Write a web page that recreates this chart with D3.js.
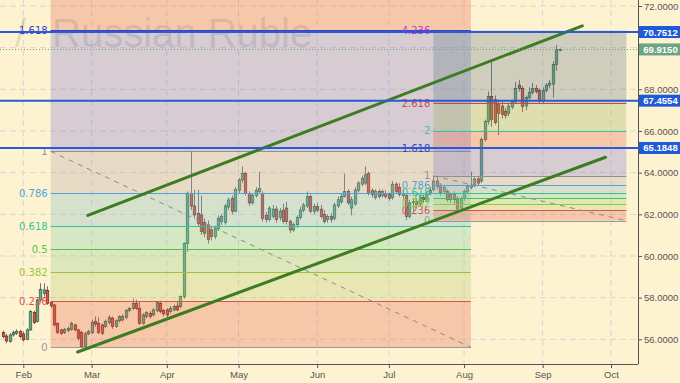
<!DOCTYPE html>
<html><head><meta charset="utf-8">
<script src="https://cdn.jsdelivr.net/npm/d3@7"></script>
<style>
html,body{margin:0;padding:0;background:#fef3d1;}
svg{display:block;}
</style></head><body>
<svg id="chart" width="680" height="383"></svg>
<script>
// ---------------- DATA ----------------
// daily USD/RUB candles (trading days starting 2018-01-24)
const firstDay = "2018-01-24";
const opens = [56.32,56.16,55.89,56.21,56.29,56.37,56.26,56.00,56.45,57.28,56.85,57.89,58.20,58.34,57.76,57.65,56.77,56.45,56.32,56.42,56.48,56.69,56.45,56.32,55.65,56.26,56.32,56.85,56.77,56.69,56.61,56.80,57.01,56.61,56.89,56.93,57.06,57.38,57.49,57.73,57.49,56.77,57.09,57.25,57.17,57.38,57.73,57.38,57.41,57.33,57.41,57.60,57.57,58.05,60.60,63.01,62.40,62.05,61.97,61.60,61.49,61.25,60.93,61.33,61.65,61.60,62.35,62.75,62.15,63.15,63.65,63.97,63.00,62.55,62.90,63.10,63.00,61.95,61.75,61.90,62.25,61.85,62.20,62.30,61.65,61.25,61.50,61.85,62.20,62.40,62.85,62.15,62.37,62.25,62.00,61.75,61.90,61.80,62.40,62.60,62.85,63.10,62.30,62.50,63.15,63.45,63.50,63.97,63.15,62.80,63.10,62.90,63.00,62.95,62.80,63.45,63.30,63.00,62.90,61.90,62.55,62.60,62.50,62.80,62.70,63.00,63.20,63.60,63.40,63.10,63.10,62.95,62.95,62.75,62.30,62.75,63.10,63.30,63.40,63.70,63.60,65.60,66.45,67.65,67.50,67.30,67.20,66.95,66.85,67.15,67.40,68.20,68.05,67.20,67.60,67.85,68.05,67.95,67.45,67.95,68.20,68.25,69.20,69.90];
const highs = [56.42,56.26,56.29,56.42,56.48,56.45,56.37,56.53,57.41,57.38,57.95,58.69,58.69,58.55,57.85,57.70,56.80,56.50,56.55,56.60,56.85,56.75,56.50,56.40,56.35,56.45,56.95,57.10,57.05,56.75,56.95,57.15,57.10,56.95,57.15,57.20,57.45,57.55,57.95,57.90,57.80,57.25,57.35,57.35,57.50,57.85,57.85,57.45,57.50,57.60,57.65,57.80,58.10,60.65,63.10,65.05,63.17,63.17,62.90,61.80,61.70,61.40,61.45,61.95,62.00,62.50,62.80,62.90,63.30,63.75,64.30,64.05,63.10,63.00,63.30,64.05,63.10,62.10,62.40,62.45,62.40,62.30,62.50,62.60,61.75,61.60,61.95,62.35,62.55,63.10,62.95,62.50,62.55,62.45,62.20,62.00,62.05,62.55,62.85,63.00,63.95,63.20,62.85,63.30,63.60,63.85,64.30,64.05,63.25,63.20,63.20,63.20,63.15,63.05,63.60,63.55,63.50,63.20,63.00,62.70,62.80,62.75,62.90,62.95,63.10,63.30,63.84,63.80,63.50,63.40,63.20,63.05,63.10,62.85,62.85,63.20,63.45,64.05,63.80,63.85,65.70,66.55,67.90,69.33,67.70,67.50,67.40,67.10,67.30,67.50,68.35,68.45,68.15,67.70,68.10,68.30,68.20,68.05,68.10,68.30,68.45,69.35,70.13,69.95];
const lows = [56.05,55.81,55.84,56.13,56.21,56.05,55.89,55.95,56.40,56.73,56.80,57.80,58.05,57.65,57.50,56.60,56.25,56.20,56.25,56.35,56.42,56.38,55.95,55.57,55.60,56.20,56.25,56.60,56.25,56.20,56.55,56.70,56.50,56.55,56.80,56.85,56.95,57.30,57.40,57.40,56.70,56.70,57.00,57.00,57.10,57.30,57.25,57.10,57.05,57.25,57.35,57.35,57.50,57.95,60.20,62.20,61.81,61.41,61.00,60.90,60.60,60.75,60.80,61.20,61.50,61.50,62.20,62.00,62.10,63.00,63.50,62.90,62.40,62.45,62.80,63.00,61.65,61.60,61.65,61.80,61.60,61.70,61.55,61.50,61.10,61.15,61.35,61.75,62.10,62.30,62.05,62.00,62.10,61.80,61.55,61.60,61.60,61.70,62.30,62.50,62.80,62.45,61.95,62.40,63.05,63.35,63.40,62.90,62.80,62.70,62.75,62.80,62.75,62.65,62.70,63.00,62.85,62.70,61.72,61.80,62.15,62.30,62.40,62.55,62.60,62.90,63.10,63.20,62.90,62.95,62.60,62.55,62.50,62.10,62.20,62.65,63.00,63.20,63.30,63.40,63.50,65.50,66.30,66.20,66.30,65.80,66.60,66.60,66.70,67.05,67.30,67.90,66.90,67.00,67.50,67.75,67.80,67.35,67.35,67.85,68.05,67.60,68.90,69.85];
const closes = [56.13,55.92,56.21,56.32,56.37,56.13,55.97,56.45,57.33,56.80,57.89,58.40,58.37,57.73,57.60,56.69,56.32,56.29,56.48,56.53,56.77,56.45,56.05,55.65,56.26,56.37,56.80,56.73,56.32,56.29,56.85,57.06,56.61,56.89,57.09,57.09,57.38,57.49,57.73,57.49,56.77,57.17,57.28,57.09,57.41,57.76,57.33,57.22,57.17,57.49,57.57,57.41,58.05,60.61,63.02,62.40,61.97,61.57,61.17,61.09,60.80,60.93,61.33,61.81,61.89,62.40,62.69,62.15,63.20,63.65,63.97,63.00,62.55,62.90,63.15,63.25,61.80,61.75,62.30,62.25,61.75,62.15,61.65,61.65,61.25,61.50,61.85,62.20,62.45,62.85,62.15,62.37,62.20,61.90,61.65,61.90,61.75,62.45,62.70,62.85,63.10,62.55,62.70,63.17,63.50,63.73,63.90,63.00,62.95,63.10,62.85,63.10,62.85,62.75,63.45,63.10,62.95,62.90,61.90,62.55,62.60,62.45,62.80,62.70,63.00,63.15,63.60,63.35,63.05,63.30,62.70,62.70,62.70,62.25,62.75,63.10,63.35,63.40,63.70,63.50,65.60,66.45,67.65,66.55,66.40,66.85,66.80,66.75,67.20,67.40,68.05,68.05,67.17,67.60,67.85,68.05,67.90,67.45,67.95,68.20,68.30,69.20,69.90,69.915];

const priceTicks = [56,58,60,62,64,66,68,70,72];
const priceTickLabels = [56,58,60,62,64,66,68,72];
const monthNames = ["Feb","Mar","Apr","May","Jun","Jul","Aug","Sep","Oct"];
const markedPrices = [70.7512, 67.4554, 65.1848];
const lastPrice = 69.915;

// Fibonacci retracements (bar index, prices of level 1 and level 0)
const fibBig = {start: 14, end: 137, p1: 65.025, p0: 55.615};
const fibBigLevels = [0, 0.236, 0.382, 0.5, 0.618, 0.786, 1, 1.618, 2.618];
const fibSmall = {start: 126, end: 182.5, p1: 63.848, p0: 61.693};
const fibSmallLevels = [0, 0.236, 0.382, 0.5, 0.618, 0.786, 1, 1.618, 2, 2.618, 4.236];

// channel trend lines [barIndex, price]
const channelUpper = [[24.9, 61.95], [169.6, 71.05]];
const channelLower = [[21.9, 55.39], [176.4, 64.74]];

// ---------------- STYLE ----------------
const levelColor = {"0":"#9a9a9a","0.236":"#d9534f","0.382":"#9cc43a","0.5":"#4cc44c","0.618":"#33c39a","0.786":"#4ea3d9","1":"#8f8f9a","1.618":"#3b3fc4","2":"#3cc39e","2.618":"#d64545","4.236":"#c33bc8"};
const fibBigZones = ["rgb(227,103,75)","rgb(181,206,108)","rgb(141,210,131)","rgb(121,206,165)","rgb(121,186,195)","rgb(181,166,168)","rgb(124,116,208)","rgb(227,103,75)"];
const fibSmallZones = ["rgb(227,103,75)","rgb(181,206,108)","rgb(141,210,131)","rgb(121,206,165)","rgb(121,186,195)","rgb(181,166,168)","rgb(124,116,208)","rgb(227,103,75)","rgb(150,175,95)","rgb(100,122,140)"];

// ---------------- CHART ----------------
const plotW = 638, plotH = 364;
const svg = d3.select("#chart");
const dates = d3.timeDay.range(new Date(2018,0,24), new Date(2018,10,1)).filter(d => d.getDay() !== 0 && d.getDay() !== 6);
const x = d3.scaleLinear().domain([6, 178]).range([23.3, 611]);
const y = d3.scaleLinear().domain([56, 72]).range([339.3, 6]);

svg.append("rect").attr("width", 680).attr("height", 383).attr("fill", "#fef3d1");
svg.append("defs").append("clipPath").attr("id", "plotclip")
  .append("rect").attr("x", 0).attr("y", 0).attr("width", plotW).attr("height", plotH);
const plot = svg.append("g").attr("clip-path", "url(#plotclip)");

// month ticks
const monthIdx = [];
for (let m = 1; m <= 9; m++) {
  const i = dates.findIndex(d => d.getMonth() === m);
  monthIdx.push(i);
}

// grid
plot.append("g").selectAll("line").data(priceTicks).join("line")
  .attr("x1", 0).attr("x2", plotW).attr("y1", d => y(d)).attr("y2", d => y(d))
  .attr("stroke", "#d6d5d8").attr("stroke-dasharray", "6,4");
plot.append("g").selectAll("line").data(monthIdx).join("line")
  .attr("y1", 0).attr("y2", plotH).attr("x1", d => x(d)).attr("x2", d => x(d))
  .attr("stroke", "#d6d5d8").attr("stroke-dasharray", "6,4");

// candles
const bars = opens.map((o, i) => ({i, o, h: highs[i], l: lows[i], c: closes[i]}));
const cg = plot.append("g");
cg.selectAll("line").data(bars).join("line")
  .attr("x1", d => Math.round(x(d.i)) + 0.5).attr("x2", d => Math.round(x(d.i)) + 0.5)
  .attr("y1", d => y(d.h)).attr("y2", d => y(d.l))
  .attr("stroke", "#737375").attr("stroke-width", 1);
cg.selectAll("rect").data(bars).join("rect")
  .attr("x", d => Math.round(x(d.i)) + 0.5 - 1.3).attr("width", 2.6)
  .attr("y", d => y(Math.max(d.o, d.c)))
  .attr("height", d => Math.max(1, Math.abs(y(d.o) - y(d.c))))
  .attr("fill", d => d.c >= d.o ? "#6ba583" : "#d75442")
  .attr("stroke", d => d.c >= d.o ? "#225437" : "#5b1a13")
  .attr("stroke-width", 0.6);

// fibs
function drawFib(fib, levels, zones) {
  const g = plot.append("g");
  const price = lv => fib.p0 + lv * (fib.p1 - fib.p0);
  const x0 = x(fib.start), x1 = x(fib.end);
  const pairs = d3.pairs(levels);
  g.selectAll("rect").data(pairs).join("rect")
    .attr("x", x0).attr("width", x1 - x0)
    .attr("y", d => y(price(d[1])))
    .attr("height", d => y(price(d[0])) - y(price(d[1])))
    .attr("fill", (d, k) => zones[k]).attr("fill-opacity", 0.3);
  g.selectAll("line.lvl").data(levels).join("line").attr("class", "lvl")
    .attr("x1", x0).attr("x2", x1)
    .attr("y1", d => Math.round(y(price(d))) + 0.5).attr("y2", d => Math.round(y(price(d))) + 0.5)
    .attr("stroke", d => levelColor[String(d)]).attr("stroke-width", 1);
  g.append("line")
    .attr("x1", x0).attr("y1", y(fib.p1)).attr("x2", x1).attr("y2", y(fib.p0))
    .attr("stroke", "#8c8c8c").attr("stroke-dasharray", "5,5");
  g.selectAll("text").data(levels.filter(d => y(price(d)) > 6)).join("text")
    .attr("x", x0 - 3).attr("y", d => y(price(d)))
    .attr("text-anchor", "end").attr("dominant-baseline", "central")
    .attr("font-family", "DejaVu Sans, Verdana, sans-serif").attr("font-size", "10px")
    .attr("fill", d => levelColor[String(d)])
    .text(d => String(d));
}
drawFib(fibBig, fibBigLevels, fibBigZones);
drawFib(fibSmall, fibSmallLevels, fibSmallZones);

// watermark
const wm = plot.append("text").attr("y", 47)
  .attr("font-family", "Liberation Sans, Arial, sans-serif").attr("font-size", "40px")
  .attr("fill", "rgba(90,85,105,0.17)");
wm.append("tspan").attr("x", 15).text("/");
wm.append("tspan").attr("x", 52).text("Russian Ruble");

// channel lines
const lineGen = d3.line().x(d => x(d[0])).y(d => y(d[1]));
[channelUpper, channelLower].forEach(ch => {
  plot.append("path").attr("d", lineGen(ch)).attr("fill", "none")
    .attr("stroke", "#3d7c22").attr("stroke-width", 3).attr("stroke-linecap", "round");
});

// horizontal marked price lines
plot.selectAll("line.hl").data(markedPrices).join("line").attr("class", "hl")
  .attr("x1", 0).attr("x2", plotW).attr("y1", d => y(d)).attr("y2", d => y(d))
  .attr("stroke", "#2a5bd7").attr("stroke-width", 2);
plot.append("line").attr("x1", 0).attr("x2", plotW)
  .attr("y1", Math.round(y(lastPrice)) + 0.5).attr("y2", Math.round(y(lastPrice)) + 0.5)
  .attr("stroke", "#6ba583").attr("stroke-dasharray", "1,2");

// axes
svg.append("line").attr("x1", 0).attr("x2", plotW).attr("y1", plotH + 0.5).attr("y2", plotH + 0.5).attr("stroke", "#555");
svg.append("line").attr("x1", plotW + 0.5).attr("x2", plotW + 0.5).attr("y1", 0).attr("y2", plotH).attr("stroke", "#555");

const xAxis = d3.axisBottom(x).tickValues(monthIdx).tickFormat((d, k) => monthNames[k]).tickSize(4).tickPadding(3);
const gx = svg.append("g").attr("transform", `translate(0,${plotH})`).call(xAxis);
gx.select(".domain").remove();
gx.selectAll("line").attr("stroke", "#555");
gx.selectAll("text").attr("fill", "#555").attr("font-family", "Liberation Sans, Arial, sans-serif").attr("font-size", "9.5px");

const yAxis = d3.axisRight(y).tickValues(priceTickLabels).tickFormat(d => d.toFixed(4)).tickSize(4).tickPadding(2);
const gy = svg.append("g").attr("transform", `translate(${plotW},0)`).call(yAxis);
gy.select(".domain").remove();
gy.selectAll("line").attr("stroke", "#555");
gy.selectAll("text").attr("fill", "#555").attr("font-family", "Liberation Sans, Arial, sans-serif").attr("font-size", "9.5px");

// price label boxes
const boxes = markedPrices.map(p => ({p, col: "#1f5bd8"})).concat([{p: lastPrice, col: "#6ba583"}]);
const bg = svg.append("g");
bg.selectAll("rect").data(boxes).join("rect")
  .attr("x", plotW + 1).attr("width", 680 - plotW - 1)
  .attr("y", d => y(d.p) - 6).attr("height", 12).attr("fill", d => d.col);
bg.selectAll("text").data(boxes).join("text")
  .attr("x", 660.5).attr("y", d => y(d.p)).attr("text-anchor", "middle").attr("dominant-baseline", "central")
  .attr("font-family", "Liberation Sans, Arial, sans-serif").attr("font-size", "9.5px").attr("font-weight", "bold")
  .attr("fill", "#fff").text(d => d.p.toFixed(4));
</script>
</body></html>
